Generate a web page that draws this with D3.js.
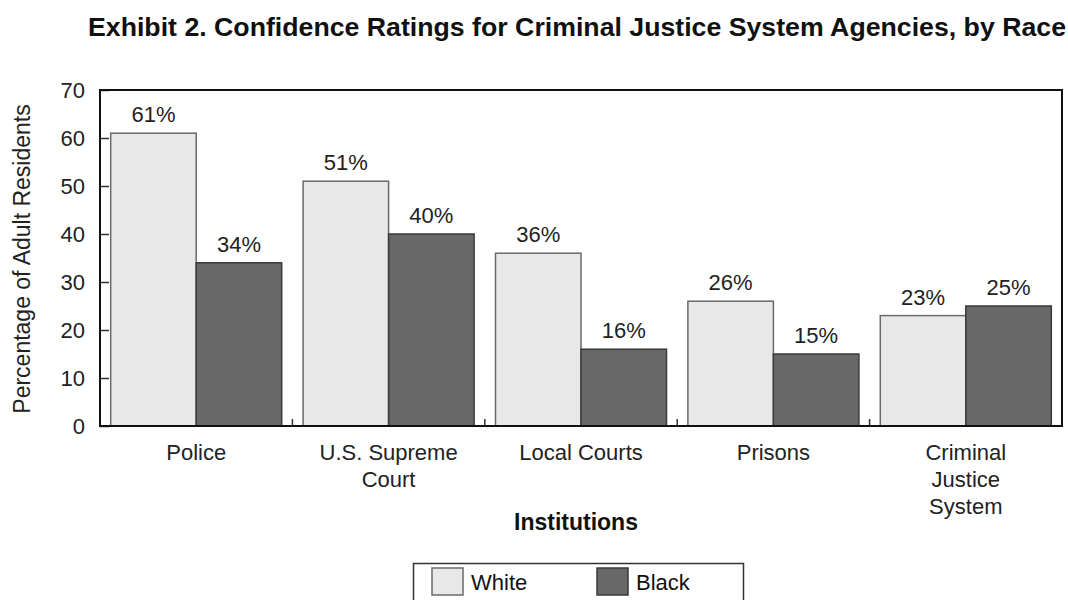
<!DOCTYPE html>
<html>
<head>
<meta charset="utf-8">
<script src="https://cdn.jsdelivr.net/npm/d3@7"></script>
<style>
  html, body { margin: 0; padding: 0; background: #fff; }
  svg { display: block; font-family: "Liberation Sans", Arial, Helvetica, sans-serif; }
</style>
</head>
<body>
<svg id="chart" width="1068" height="600"></svg>
<script>
// Confidence ratings by institution and race (percent of adult residents)
const institutions = [
  ["Police"],
  ["U.S. Supreme", "Court"],
  ["Local Courts"],
  ["Prisons"],
  ["Criminal", "Justice", "System"]
];
const seriesNames = ["White", "Black"];
const whiteValues = [61, 51, 36, 26, 23];
const blackValues = [34, 40, 16, 15, 25];
const yTicks = [0, 10, 20, 30, 40, 50, 60, 70];

const fills = { White: "#e8e8e8", Black: "#686868" };
const strokes = { White: "#6a6a6a", Black: "#3a3a3a" };

const svg = d3.select("#chart");
const m = { left: 100, right: 1062, top: 90, bottom: 426 };

const x = d3.scaleBand()
  .domain(d3.range(institutions.length))
  .range([m.left, m.right])
  .paddingInner(0).paddingOuter(0);
const xInner = d3.scaleBand()
  .domain(seriesNames)
  .range([0, x.bandwidth()])
  .paddingOuter(0.125).paddingInner(0);
const y = d3.scaleLinear().domain([0, 70]).range([m.bottom, m.top]);

// Title
svg.append("text")
  .attr("x", 88).attr("y", 36)
  .attr("font-size", 26).attr("font-weight", "bold")
  .attr("textLength", 978).attr("lengthAdjust", "spacingAndGlyphs")
  .attr("fill", "#111")
  .text("Exhibit 2. Confidence Ratings for Criminal Justice System Agencies, by Race");

// Bars
const rows = institutions.map((d, i) => ({ i, values: [
  { key: "White", v: whiteValues[i] },
  { key: "Black", v: blackValues[i] }
]}));

const groups = svg.append("g").selectAll("g").data(rows).join("g")
  .attr("transform", d => `translate(${x(d.i)},0)`);

groups.selectAll("rect").data(d => d.values).join("rect")
  .attr("x", d => xInner(d.key))
  .attr("y", d => y(d.v))
  .attr("width", xInner.bandwidth())
  .attr("height", d => y(0) - y(d.v))
  .attr("fill", d => fills[d.key])
  .attr("stroke", d => strokes[d.key])
  .attr("stroke-width", 1.5);

groups.selectAll("text.val").data(d => d.values).join("text")
  .attr("class", "val")
  .attr("x", d => xInner(d.key) + xInner.bandwidth() / 2)
  .attr("y", d => y(d.v) - 11)
  .attr("text-anchor", "middle")
  .attr("font-size", 22)
  .attr("fill", "#222")
  .text(d => d.v + "%");

// Y axis with inward ticks
const yAxis = d3.axisLeft(y).tickValues(yTicks).tickSize(-9).tickPadding(15);
const yg = svg.append("g").attr("transform", `translate(${m.left},0)`).call(yAxis);
yg.select(".domain").remove();
yg.selectAll(".tick line").attr("stroke", "#333").attr("stroke-width", 1.5);
yg.selectAll(".tick text")
  .attr("font-size", 22).attr("fill", "#222")
  .attr("font-family", "Liberation Sans, Arial, sans-serif");

// Category boundary ticks along the bottom
svg.append("g").selectAll("line")
  .data(d3.range(1, institutions.length))
  .join("line")
  .attr("x1", i => x(i)).attr("x2", i => x(i))
  .attr("y1", m.bottom).attr("y2", m.bottom - 7)
  .attr("stroke", "#333").attr("stroke-width", 1.5);

// Plot frame
svg.append("rect")
  .attr("x", m.left).attr("y", m.top)
  .attr("width", m.right - m.left).attr("height", m.bottom - m.top)
  .attr("fill", "none").attr("stroke", "#111").attr("stroke-width", 2);

// Category labels
const cat = svg.append("g").selectAll("text").data(institutions).join("text")
  .attr("x", (d, i) => x(i) + x.bandwidth() / 2)
  .attr("y", 460)
  .attr("text-anchor", "middle")
  .attr("font-size", 22)
  .attr("fill", "#222");
cat.selectAll("tspan").data(d => d).join("tspan")
  .attr("x", function () { return this.parentNode.getAttribute("x"); })
  .attr("dy", (d, j) => j === 0 ? 0 : 27)
  .text(d => d);

// Axis titles
svg.append("text")
  .attr("x", 576).attr("y", 530)
  .attr("text-anchor", "middle")
  .attr("font-size", 23).attr("font-weight", "bold").attr("fill", "#111")
  .text("Institutions");

svg.append("text")
  .attr("transform", "translate(30,259) rotate(-90)")
  .attr("text-anchor", "middle")
  .attr("font-size", 23).attr("fill", "#222")
  .text("Percentage of Adult Residents");

// Legend
const lg = svg.append("g");
lg.append("rect")
  .attr("x", 413.5).attr("y", 563.5).attr("width", 330).attr("height", 50)
  .attr("fill", "#fff").attr("stroke", "#333").attr("stroke-width", 1.5);
const items = lg.selectAll("g").data(seriesNames).join("g")
  .attr("transform", (d, i) => `translate(${432 + i * 165},568)`);
items.append("rect")
  .attr("width", 31).attr("height", 27)
  .attr("fill", d => fills[d]).attr("stroke", d => strokes[d]).attr("stroke-width", 1.5);
items.append("text")
  .attr("x", 39).attr("y", 22)
  .attr("font-size", 22).attr("fill", "#111")
  .text(d => d);
</script>
</body>
</html>
